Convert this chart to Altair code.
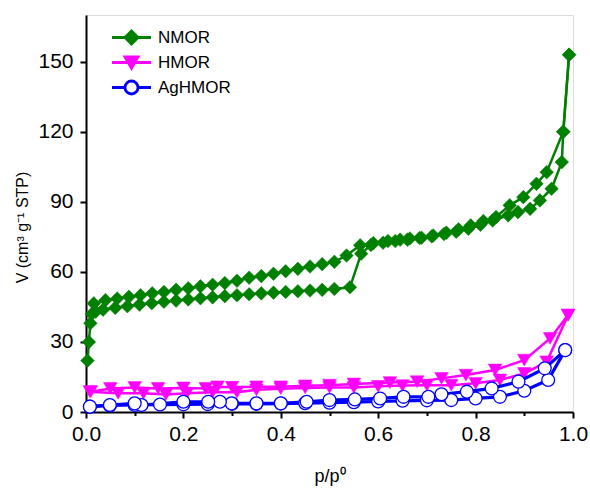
import altair as alt
import pandas as pd

# ---------------- data ----------------
samples = ["NMOR", "HMOR", "AgHMOR"]
colors = ["#008000", "#ff00ff", "#0000ff"]

nmor_ads_x = [0.003, 0.006, 0.009, 0.012, 0.02, 0.035, 0.06, 0.085, 0.11, 0.135, 0.16, 0.185,
              0.21, 0.235, 0.26, 0.285, 0.31, 0.335, 0.36, 0.385, 0.41, 0.435, 0.46, 0.485,
              0.51, 0.542, 0.565, 0.585, 0.61, 0.635, 0.66, 0.685, 0.71, 0.735, 0.76, 0.785,
              0.81, 0.835, 0.867, 0.887, 0.912, 0.932, 0.956, 0.977, 0.98, 0.992]
nmor_ads_y = [22, 30, 38, 42, 43, 43.8, 44.6, 45.3, 46, 46.6, 47.2, 47.7,
              48.2, 48.7, 49.1, 49.6, 50, 50.4, 50.8, 51.1, 51.4, 51.7, 52, 52.3,
              52.7, 53.4, 67.8, 71.5, 72.5, 73.2, 73.8, 74.5, 75.2, 76.2, 77.2, 78.5,
              80.2, 82, 84.2, 85.6, 87, 90.6, 95.6, 107, 120, 153]
nmor_des_x = [0.992, 0.98, 0.946, 0.925, 0.898, 0.87, 0.842, 0.816, 0.79, 0.765, 0.74, 0.713,
              0.689, 0.665, 0.645, 0.62, 0.59, 0.563, 0.535, 0.51, 0.485, 0.46, 0.435, 0.41,
              0.385, 0.36, 0.335, 0.31, 0.285, 0.26, 0.235, 0.21, 0.185, 0.16, 0.136, 0.112,
              0.088, 0.064, 0.04, 0.016]
nmor_des_y = [153, 120, 102.7, 97.7, 92, 88.5, 83.5, 81.8, 79.9, 78.2, 76.8, 75.6,
              74.6, 74.3, 73.8, 73.2, 72.3, 71.4, 67, 64.3, 63.3, 62.3, 61.3, 60.3,
              59.2, 58.2, 57.5, 56.2, 55.2, 54.5, 53.8, 53, 52.3, 51.4, 50.8, 50,
              49.3, 48.6, 47.9, 46.5]

hmor_ads_x = [0.008, 0.066, 0.118, 0.164, 0.207, 0.26, 0.31, 0.35, 0.4, 0.45, 0.5, 0.55,
              0.6, 0.65, 0.7, 0.75, 0.8, 0.85, 0.9, 0.946, 0.99]
hmor_ads_y = [8.7, 8, 8, 7.5, 8, 8.5, 8.5, 9.5, 10, 10.3, 10.5, 10.5,
              11, 11.3, 11.5, 11.5, 12.3, 13.7, 16.5, 21.5, 41.5]
hmor_des_x = [0.99, 0.953, 0.9, 0.84, 0.78, 0.73, 0.68, 0.624, 0.55, 0.5, 0.45, 0.4,
              0.35, 0.3, 0.27, 0.246, 0.2, 0.148, 0.1, 0.05, 0.01]
hmor_des_y = [41.5, 31.5, 22.2, 18, 15.8, 14.4, 13, 12.6, 12, 11.5, 11.2, 10.8,
              10.8, 10.6, 10.8, 10.1, 10.3, 10.1, 10.5, 10.1, 8.7]

ag_ads_x = [0.008, 0.049, 0.1, 0.152, 0.2, 0.25, 0.3, 0.35, 0.4, 0.45, 0.5, 0.55,
            0.6, 0.65, 0.7, 0.75, 0.8, 0.85, 0.9, 0.949, 0.984]
ag_ads_y = [2.3, 2.8, 3, 3.2, 3.3, 3.4, 3.5, 3.5, 3.6, 3.8, 4, 4.2,
            4.5, 4.8, 5, 5.1, 5.8, 6.5, 9.1, 13.7, 26.5]
ag_des_x = [0.984, 0.942, 0.888, 0.833, 0.782, 0.73, 0.703, 0.652, 0.604, 0.552, 0.5, 0.453,
            0.4, 0.35, 0.299, 0.275, 0.251, 0.2, 0.114, 0.1, 0.049, 0.008]
ag_des_y = [26.5, 18.7, 13, 10.1, 8.7, 7.6, 6.5, 6.5, 5.8, 5.4, 5.1, 4.4,
            3.7, 3.7, 3.7, 4.4, 4.4, 4.4, 3, 3.7, 3, 2.3]

x_ticks = [round(0.1 * i, 1) for i in range(11)]
y_ticks = [15 * i for i in range(12)]

# ---------------- table ----------------
rows = []
def add(sample, branch, xs, ys):
    for i, (xv, yv) in enumerate(zip(xs, ys)):
        rows.append({"sample": sample, "branch": sample + "-" + branch, "idx": i, "x": xv, "y": yv})

add("NMOR", "ads", nmor_ads_x, nmor_ads_y)
add("NMOR", "des", nmor_des_x, nmor_des_y)
add("HMOR", "ads", hmor_ads_x, hmor_ads_y)
add("HMOR", "des", hmor_des_x, hmor_des_y)
add("AgHMOR", "ads", ag_ads_x, ag_ads_y)
add("AgHMOR", "des", ag_des_x, ag_des_y)
df = pd.DataFrame(rows)

FONT = "Liberation Sans"

xscale = alt.Scale(domain=[0, 1], nice=False, zero=False)
yscale = alt.Scale(domain=[0, 170], nice=False, zero=False)

xaxis = alt.Axis(
    values=x_ticks,
    labelExpr="round(datum.value*10) % 2 == 0 ? format(datum.value, '.1f') : ''",
    tickSize={"condition": {"test": "round(datum.value*10) % 2 == 0", "value": 6}, "value": 3.5},
    labelOverlap=False, labelFontSize=21, labelFont=FONT, labelColor="black", labelPadding=5,
    title="p/p⁰", titleFontSize=18, titleFont=FONT, titleFontWeight="normal", titleColor="black",
    titlePadding=23, domainColor="black", domainWidth=2, tickColor="black", tickWidth=2, grid=False,
    labelFlush=False,
)
yaxis = alt.Axis(
    values=y_ticks,
    labelExpr="datum.value % 30 == 0 ? format(datum.value, 'd') : ''",
    tickSize={"condition": {"test": "datum.value % 30 == 0", "value": 6}, "value": 3.5},
    labelOverlap=False, labelFontSize=21, labelFont=FONT, labelColor="black", labelPadding=7,
    title="V (cm³ g⁻¹ STP)", titleFontSize=16, titleFont=FONT, titleFontWeight="normal",
    titleColor="black", titlePadding=7, titleY=212, domainColor="black", domainWidth=2,
    tickColor="black", tickWidth=2, grid=False, labelFlush=False,
)

base = alt.Chart(df)

def line(sample, color, sw):
    return base.transform_filter(alt.datum.sample == sample).mark_line(
        strokeWidth=sw, color=color
    ).encode(
        x=alt.X("x:Q", scale=xscale, axis=xaxis),
        y=alt.Y("y:Q", scale=yscale, axis=yaxis),
        detail="branch:N",
        order="idx:Q",
    )

def pts(sample, shape, fill, stroke, size, sw):
    return base.transform_filter(alt.datum.sample == sample).mark_point(
        shape=shape, filled=False, fill=fill, stroke=stroke, size=size, strokeWidth=sw, opacity=1
    ).encode(x="x:Q", y="y:Q")

l_nmor = line("NMOR", "#008000", 2.5)
l_hmor = line("HMOR", "#ff00ff", 2.5)
l_ag = line("AgHMOR", "#0000ff", 3.2)
p_nmor = pts("NMOR", "diamond", "#008000", "#008000", 185, 0.5)
p_hmor = pts("HMOR", "triangle-down", "#ff00ff", "#ff00ff", 185, 0.5)
p_ag = pts("AgHMOR", "circle", "#ffffff", "#0000ff", 165, 1.3)

leg_shapes = [
    "M-3,0H3M-1,0L0,-1L1,0L0,1Z",
    "M-3,0H3M-1,-0.866L1,-0.866L0,0.866Z",
    "M-3,0H-1M1,0H3M-1,0A1,1,0,1,1,1,0A1,1,0,1,1,-1,0Z",
]
legend = alt.Legend(
    title=None, orient="none", legendX=37, legendY=14,
    labelFont=FONT, labelFontSize=17, labelColor="black", labelOffset=18,
    symbolSize=169, symbolStrokeWidth=2.8, symbolOpacity=1, rowPadding=1, padding=0,
)
leg_layer = base.transform_filter(alt.datum.idx == 0).mark_point(opacity=0, strokeWidth=2.5).encode(
    x="x:Q", y="y:Q",
    shape=alt.Shape("sample:N", scale=alt.Scale(domain=samples, range=leg_shapes), legend=legend),
    fill=alt.Fill("sample:N", scale=alt.Scale(domain=samples, range=["#008000", "#ff00ff", "#ffffff"]), legend=legend),
    stroke=alt.Stroke("sample:N", scale=alt.Scale(domain=samples, range=colors), legend=legend),
)

chart = alt.layer(l_nmor, p_nmor, l_hmor, p_hmor, l_ag, p_ag, leg_layer).properties(
    width=487, height=397,
    padding={"left": 86, "top": 15, "right": 17, "bottom": 76},
    autosize=alt.AutoSizeParams(type="none"),
).configure_view(stroke="#555555", strokeWidth=1.2).configure(background="white")

chart.save("out.html", embed_options={"renderer": "svg", "actions": False})
